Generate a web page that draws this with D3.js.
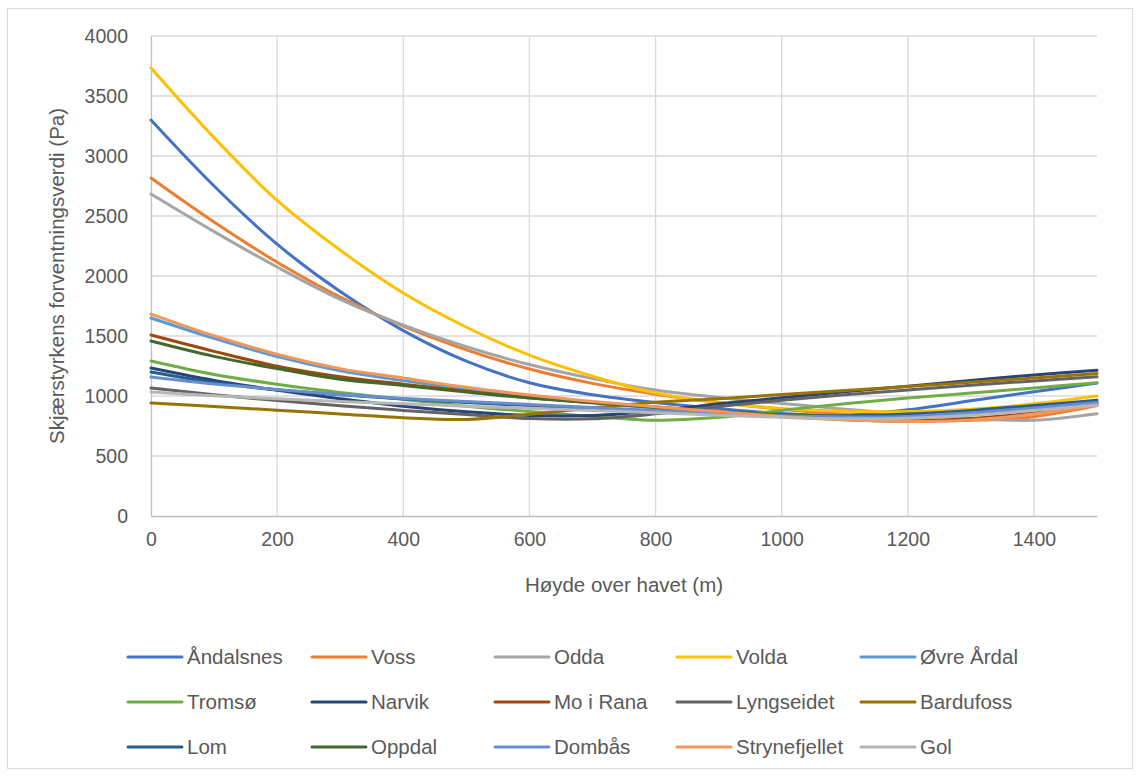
<!DOCTYPE html>
<html><head><meta charset="utf-8">
<script src="https://cdn.jsdelivr.net/npm/d3@7"></script>
<style>
html,body{margin:0;padding:0;background:#fff;}
text{font-family:"Liberation Sans",Arial,sans-serif;fill:#595959;}
</style></head>
<body><svg id="c" width="1140" height="776"></svg>
<script>
const heights = [0,100,200,300,400,500,600,700,800,900,1000,1100,1200,1300,1400,1500];
const xTicks = [0,200,400,600,800,1000,1200,1400];
const yTicks = [0,500,1000,1500,2000,2500,3000,3500,4000];

const andalsnes   = [3300,2750,2265,1870,1545,1290,1110,1010,945,895,855,840,885,960,1035,1108];
const voss        = [2817,2450,2115,1825,1582,1385,1225,1105,1015,945,890,848,812,797,828,920];
const odda        = [2683,2370,2075,1805,1590,1410,1262,1145,1050,988,938,890,850,815,798,852];
const volda       = [3733,3153,2630,2215,1858,1573,1340,1165,1025,945,895,872,870,890,935,1000];
const ovreArdal   = [1650,1480,1328,1210,1128,1055,992,942,900,866,842,830,835,860,900,950];
const tromso      = [1292,1180,1098,1030,972,915,870,830,797,822,880,935,983,1025,1067,1110];
const narvik      = [1233,1130,1048,978,915,868,838,838,875,935,985,1035,1082,1130,1175,1215];
const moIRana     = [1508,1372,1248,1160,1098,1040,985,945,908,870,832,802,792,812,860,930];
const lyngseidet  = [1067,1010,962,918,880,845,812,810,852,912,965,1010,1050,1090,1125,1160];
const bardufoss   = [942,912,882,850,818,805,848,900,948,978,1012,1045,1080,1115,1150,1188];
const lom         = [1200,1112,1052,1010,975,945,920,895,870,850,836,835,850,880,920,965];
const oppdal      = [1458,1330,1228,1140,1088,1033,983,945,905,870,845,830,830,850,890,940];
const dombas      = [1158,1100,1055,1012,980,955,930,905,880,855,836,826,830,860,900,945];
const strynefjellet=[1683,1502,1348,1228,1150,1072,1008,955,910,870,830,802,787,800,850,925];
const gol         = [1033,1002,977,955,935,915,898,880,860,840,822,810,815,840,880,925];

const names  = ["Åndalsnes","Voss","Odda","Volda","Øvre Årdal","Tromsø","Narvik","Mo i Rana","Lyngseidet","Bardufoss","Lom","Oppdal","Dombås","Strynefjellet","Gol"];
const colors = ["#4472C4","#ED7D31","#A5A5A5","#FFC000","#5B9BD5","#70AD47","#264478","#9E480E","#636363","#997300","#255E91","#43682B","#698ED0","#F1975A","#B7B7B7"];
const values = [andalsnes,voss,odda,volda,ovreArdal,tromso,narvik,moIRana,lyngseidet,bardufoss,lom,oppdal,dombas,strynefjellet,gol];

const series = names.map((n,i)=>({name:n,color:colors[i],pts:heights.map((h,j)=>[h,values[i][j]])}));

const svg = d3.select("#c");
svg.append("rect").attr("x",7.5).attr("y",8.5).attr("width",1125).attr("height",760)
  .attr("fill","#fff").attr("stroke","#d9d9d9").attr("stroke-width",1);

const x = d3.scaleLinear().domain([0,1500]).range([151,1097]);
const y = d3.scaleLinear().domain([0,4000]).range([516,36]);

// gridlines
const g = svg.append("g");
g.selectAll(".hg").data(yTicks.filter(v=>v>0)).enter().append("line")
  .attr("x1",x(0)).attr("x2",x(1500)).attr("y1",d=>y(d)).attr("y2",d=>y(d))
  .attr("stroke","#d9d9d9").attr("stroke-width",1.3);
g.selectAll(".vg").data(xTicks.filter(v=>v>0)).enter().append("line")
  .attr("x1",d=>x(d)).attr("x2",d=>x(d)).attr("y1",y(0)).attr("y2",y(4000))
  .attr("stroke","#d9d9d9").attr("stroke-width",1.3);

// axes
const xAxis = d3.axisBottom(x).tickValues(xTicks).tickSize(0).tickPadding(16).tickFormat(d3.format("d"));
const yAxis = d3.axisLeft(y).tickValues(yTicks).tickSize(0).tickPadding(23).tickFormat(d3.format("d"));
const xa = svg.append("g").attr("transform",`translate(0,${y(0)})`).call(xAxis);
const ya = svg.append("g").attr("transform",`translate(${x(0)},0)`).call(yAxis);
[xa,ya].forEach(a=>{
  a.select(".domain").attr("stroke","#bfbfbf").attr("stroke-width",1.3);
  a.selectAll("text").style("font-size","19.5px").attr("fill","#595959");
});

// lines
const line = d3.line().x(d=>x(d[0])).y(d=>y(d[1])).curve(d3.curveCatmullRom.alpha(0.5));
svg.append("g").selectAll("path").data(series).enter().append("path")
  .attr("d",d=>line(d.pts)).attr("fill","none").attr("stroke",d=>d.color)
  .attr("stroke-width",3).attr("stroke-linejoin","round").attr("stroke-linecap","round");

// axis titles
svg.append("text").attr("x",624).attr("y",592).attr("text-anchor","middle")
  .style("font-size","20.5px").text("Høyde over havet (m)");
svg.append("text").attr("transform","translate(64,276) rotate(-90)").attr("text-anchor","middle")
  .style("font-size","20.5px").text("Skjærstyrkens forventningsverdi (Pa)");

// legend
const colX = [128,312,495,677,861];
const rowY = [657,702,747];
const lg = svg.append("g").selectAll("g").data(series).enter().append("g")
  .attr("transform",(d,i)=>`translate(${colX[i%5]},${rowY[Math.floor(i/5)]})`);
lg.append("line").attr("x1",0).attr("x2",54).attr("y1",0).attr("y2",0)
  .attr("stroke",d=>d.color).attr("stroke-width",3).attr("stroke-linecap","round");
lg.append("text").attr("x",59).attr("y",0).attr("dy","0.35em")
  .style("font-size","20.5px").text(d=>d.name);
</script></body></html>
